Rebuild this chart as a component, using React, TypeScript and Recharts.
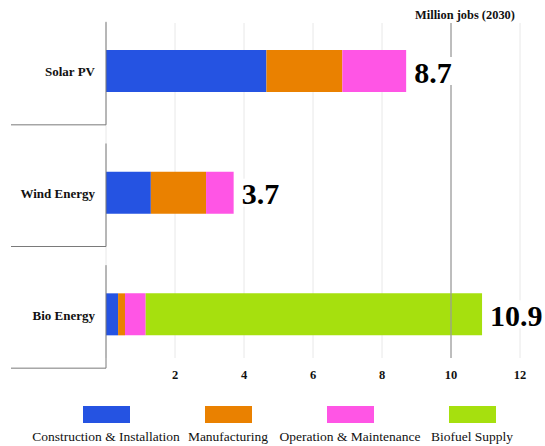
import { BarChart, Bar, XAxis, YAxis, CartesianGrid, ReferenceLine, Legend, LabelList } from 'recharts';

// Jobs by technology, million jobs in 2030
const categories = ['Solar PV', 'Wind Energy', 'Bio Energy'];
const construction = [4.65, 1.3, 0.35];
const manufacturing = [2.2, 1.6, 0.2];
const operation = [1.85, 0.8, 0.6];
const biofuel = [0, 0, 9.75];
const totals = [8.7, 3.7, 10.9];

const xTicks = [2, 4, 6, 8, 10, 12];

const series = [
  { key: 'construction', name: 'Construction & Installation', color: '#2553e2' },
  { key: 'manufacturing', name: 'Manufacturing', color: '#ea8100' },
  { key: 'operation', name: 'Operation & Maintenance', color: '#ff55e5' },
  { key: 'biofuel', name: 'Biofuel Supply', color: '#a6e00e' },
];

const data = categories.map((name, i) => ({
  name,
  construction: construction[i],
  manufacturing: manufacturing[i],
  operation: operation[i],
  biofuel: biofuel[i],
  total: totals[i],
}));

// the total goes after the last segment that actually has a value
const lastKey = data.map((row: any) => {
  let k = series[0].key;
  series.forEach((s) => {
    if (row[s.key] > 0) k = s.key;
  });
  return k;
});

const FONT = "'Liberation Serif', 'Times New Roman', serif";

// category label plus the little L-shaped frame around each row
function CategoryTick(props: any) {
  const { x, y, payload } = props;
  const ax = x + 11;
  return (
    <g>
      <text
        x={x}
        y={y + 1}
        textAnchor="end"
        dominantBaseline="central"
        style={{ fontFamily: FONT, fontWeight: 'bold', fontSize: 13 }}
        fill="#111"
      >
        {payload.value}
      </text>
      <line x1={ax} y1={y - 49} x2={ax} y2={y + 54} stroke="#7a7a7a" strokeWidth={1} />
      <line x1={ax - 95} y1={y + 54} x2={ax} y2={y + 54} stroke="#7a7a7a" strokeWidth={1} />
    </g>
  );
}

function makeTotalLabel(seriesKey: string) {
  return function TotalLabel(props: any) {
    const { x, y, width, height, value } = props;
    const row = totals.indexOf(Number(value));
    if (row < 0 || lastKey[row] !== seriesKey) return null;
    const tx = x + width + 8;
    const cy = y + height / 2;
    return (
      <g>
        <rect x={tx} y={cy - 14} width={String(value).length * 15} height={28} fill="#fff" />
        <text
          x={tx}
          y={cy + 1}
          dominantBaseline="central"
          style={{ fontFamily: FONT, fontWeight: 'bold', fontSize: 30 }}
          fill="#000"
        >
          {value}
        </text>
      </g>
    );
  };
}

function LegendContent() {
  return (
    <div style={{ display: 'flex', paddingLeft: 45, paddingTop: 4, fontFamily: FONT }}>
      {series.map((s) => (
        <div
          key={s.key}
          style={{ width: 122, display: 'flex', flexDirection: 'column', alignItems: 'center' }}
        >
          <div style={{ width: 47, height: 17, background: s.color }} />
          <div style={{ marginTop: 6, fontSize: 13.5, lineHeight: '16px', whiteSpace: 'nowrap', color: '#111' }}>
            {s.name}
          </div>
        </div>
      ))}
    </div>
  );
}

export default function App() {
  return (
    <div style={{ position: 'absolute', left: 0, top: 0, width: 545, height: 446, overflow: 'hidden' }}>
      <BarChart
        width={545}
        height={446}
        data={data}
        layout="vertical"
        margin={{ top: 23, right: 25, left: 0, bottom: 0 }}
        barSize={42}
      >
        <CartesianGrid horizontal={false} stroke="#e8e8e8" />
        <ReferenceLine
          x={10}
          stroke="#999"
          strokeWidth={1.2}
          label={{
            value: 'Million jobs (2030)',
            position: 'top',
            dx: 14,
            offset: 4,
            style: { fontFamily: FONT, fontWeight: 'bold', fontSize: 12.4 },
            fill: '#111',
          }}
        />
        <XAxis
          type="number"
          domain={[0, 12]}
          ticks={xTicks}
          axisLine={false}
          tickLine={false}
          tickSize={0}
          tickMargin={12}
          height={44}
          tick={{ style: { fontFamily: FONT, fontWeight: 'bold', fontSize: 12.5 }, fill: '#111' }}
        />
        <YAxis
          type="category"
          dataKey="name"
          width={106}
          axisLine={false}
          tickLine={false}
          tickSize={0}
          tickMargin={11}
          padding={{ top: -13, bottom: -17 }}
          tick={<CategoryTick />}
        />
        <Legend
          verticalAlign="bottom"
          height={44}
          wrapperStyle={{ left: 0, top: 402, bottom: 'auto', width: 545 }}
          content={<LegendContent />}
        />
        {series.map((s) => (
          <Bar
            key={s.key}
            dataKey={s.key}
            name={s.name}
            stackId="jobs"
            fill={s.color}
            isAnimationActive={false}
          >
            <LabelList dataKey="total" content={makeTotalLabel(s.key)} />
          </Bar>
        ))}
      </BarChart>
    </div>
  );
}
